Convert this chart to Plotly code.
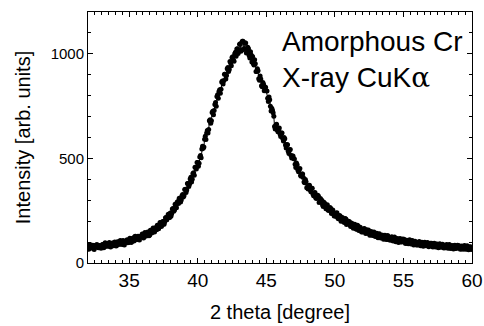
import plotly.graph_objects as go

# 2-theta grid (degrees): main scan at 32.0, 32.1, ... 60.0 and
# interleaved scan at 32.05, 32.15, ... 59.95
two_theta_start = 32.0
two_theta_step = 0.1
half_offset = 0.05

# Intensity [arb. units] at 32.0 ... 60.0 (ten values per degree)
intensity = [
    78, 70, 82, 74, 70, 81, 84, 75, 82, 75,             # 32
    78, 88, 78, 86, 93, 80, 88, 84, 96, 88,             # 33
    96, 85, 96, 103, 91, 89, 104, 97, 104, 97,          # 34
    103, 115, 103, 115, 126, 111, 120, 113, 127, 126,   # 35
    132, 125, 141, 134, 145, 134, 153, 153, 150, 167,   # 36
    159, 178, 173, 192, 180, 199, 197, 218, 218, 217,   # 37
    239, 236, 260, 252, 274, 291, 284, 303, 301, 328,   # 38
    322, 352, 349, 380, 377, 410, 400, 431, 458, 450,   # 39
    480, 477, 514, 545, 549, 592, 590, 633, 638, 685,   # 40
    680, 726, 729, 767, 796, 788, 828, 831, 870, 871,   # 41
    902, 897, 935, 925, 956, 983, 971, 1000, 988, 1024, # 42
    1012, 1048, 1017, 1060, 1024, 1052, 1016, 1024, 980, 994,  # 43
    987, 947, 953, 915, 919, 874, 880, 843, 854, 825,   # 44
    823, 788, 794, 749, 740, 718, 652, 660, 636, 637,   # 45
    617, 622, 595, 600, 564, 566, 534, 541, 514, 511,   # 46
    500, 472, 478, 445, 447, 418, 426, 409, 384, 388,   # 47
    363, 371, 350, 357, 330, 335, 312, 321, 320, 294,   # 48
    298, 278, 290, 269, 275, 253, 260, 261, 239, 243,   # 49
    230, 238, 218, 224, 224, 204, 209, 194, 210, 190,   # 50
    196, 182, 191, 172, 179, 177, 161, 176, 158, 162,   # 51
    152, 162, 149, 159, 142, 149, 135, 144, 145, 130,   # 52
    139, 126, 137, 124, 130, 133, 117, 124, 115, 125,   # 53
    112, 122, 112, 120, 106, 114, 102, 113, 109, 102,   # 54
    109, 99, 108, 95, 103, 94, 105, 94, 100, 89,        # 55
    98, 88, 98, 88, 96, 84, 92, 84, 95, 85,             # 56
    82, 91, 79, 88, 90, 80, 76, 86, 84, 76,             # 57
    85, 76, 82, 73, 82, 79, 72, 83, 69, 79,             # 58
    72, 80, 68, 78, 72, 79, 68, 76, 68, 77,             # 59
    73,                                                 # 60
]

# Intensity [arb. units] at 32.05 ... 59.95 (ten values per degree)
intensity_half = [
    66, 88, 72, 85, 65, 85, 89, 73, 84, 70,             # 32
    89, 73, 97, 80, 88, 98, 76, 95, 82, 100,            # 33
    81, 101, 88, 107, 93, 107, 86, 105, 111, 98,        # 34
    118, 98, 118, 105, 128, 113, 128, 110, 127, 139,    # 35
    120, 146, 129, 148, 130, 156, 144, 167, 148, 168,   # 36
    180, 164, 194, 174, 199, 185, 216, 207, 233, 218,   # 37
    223, 258, 247, 281, 264, 294, 310, 292, 322, 315,   # 38
    351, 337, 380, 366, 401, 387, 428, 419, 456, 480,   # 39
    462, 507, 503, 558, 555, 606, 622, 621, 680, 668,   # 40
    719, 709, 758, 749, 804, 820, 812, 865, 856, 902,   # 41
    880, 929, 916, 963, 943, 986, 964, 1007, 1023, 1001,  # 42
    1046, 1012, 1060, 1021, 1052, 1004, 1032, 992, 1010, 961,  # 43
    954, 972, 915, 929, 881, 894, 847, 863, 824, 840,   # 44
    822, 772, 780, 727, 730, 701, 641, 663, 628, 645,   # 45
    605, 622, 583, 594, 550, 565, 524, 543, 502, 511,   # 46
    497, 457, 470, 436, 452, 415, 426, 387, 399, 360,   # 47
    354, 372, 341, 357, 321, 337, 308, 324, 289, 308,   # 48
    300, 270, 286, 259, 279, 251, 265, 237, 253, 225,   # 49
    223, 240, 212, 227, 200, 218, 196, 213, 184, 201,   # 50
    198, 174, 189, 166, 185, 162, 180, 155, 171, 148,   # 51
    148, 165, 141, 157, 158, 133, 151, 132, 148, 127,   # 52
    142, 121, 140, 120, 133, 114, 133, 112, 132, 111,   # 53
    109, 126, 105, 124, 101, 117, 98, 117, 100, 115,    # 54
    113, 93, 109, 92, 111, 91, 108, 86, 104, 86,        # 55
    86, 103, 83, 99, 80, 99, 82, 98, 78, 95,            # 56
    94, 77, 95, 77, 91, 73, 92, 75, 90, 72,             # 57
    73, 89, 71, 89, 69, 84, 67, 85, 70, 85,             # 58
    83, 66, 81, 66, 84, 66, 82, 63, 78, 65,             # 59
]

x_ticks = [35, 40, 45, 50, 55, 60]
y_ticks = [0, 500, 1000]

# merge the two scans in angle order
pts = [(round(two_theta_start + i * two_theta_step, 2), v) for i, v in enumerate(intensity)]
pts += [(round(two_theta_start + half_offset + i * two_theta_step, 2), v)
        for i, v in enumerate(intensity_half)]
pts.sort(key=lambda p: p[0])
two_theta = [p[0] for p in pts]
counts = [p[1] for p in pts]

FONT = "Liberation Sans, Arial, sans-serif"

fig = go.Figure()
fig.add_trace(go.Scatter(
    x=two_theta, y=counts, mode="lines+markers",
    line=dict(color="black", width=1),
    marker=dict(color="black", size=5, symbol="circle"),
    showlegend=False, cliponaxis=True,
))

axis_common = dict(
    showline=True, linecolor="black", linewidth=1, mirror="ticks",
    ticks="inside", tickcolor="black", ticklen=5, tickwidth=1,
    showgrid=False, zeroline=False, automargin=False,
)

fig.update_layout(
    width=484, height=326,
    margin=dict(l=88, r=12, t=12, b=63),
    paper_bgcolor="white", plot_bgcolor="white",
    font=dict(family=FONT, color="black"),
    xaxis=dict(
        range=[32, 60], tickvals=x_ticks, ticktext=[str(v) for v in x_ticks],
        tickfont=dict(size=19),
        minor=dict(dtick=0.5, tick0=0, ticks="inside", ticklen=3, tickcolor="black"),
        title=dict(text="2 theta [degree]", font=dict(size=20), standoff=15),
        **axis_common,
    ),
    yaxis=dict(
        range=[0, 1200], tickvals=y_ticks, ticktext=[str(v) for v in y_ticks],
        tickfont=dict(size=15),
        minor=dict(dtick=100, tick0=0, ticks="inside", ticklen=3, tickcolor="black"),
        title=dict(text="Intensity [arb. units]", font=dict(size=20), standoff=14),
        **axis_common,
    ),
    annotations=[dict(
        xref="paper", yref="paper", x=(280 - 88) / 384, y=1.0 - (24 - 12) / 251,
        xanchor="left", yanchor="top", align="left", showarrow=False,
        text="Amorphous Cr<br>X-ray CuK<span style='font-family:DejaVu Serif'>α</span>",
        font=dict(size=28, family=FONT, color="black"),
    )],
)

fig.write_html("out.html")
